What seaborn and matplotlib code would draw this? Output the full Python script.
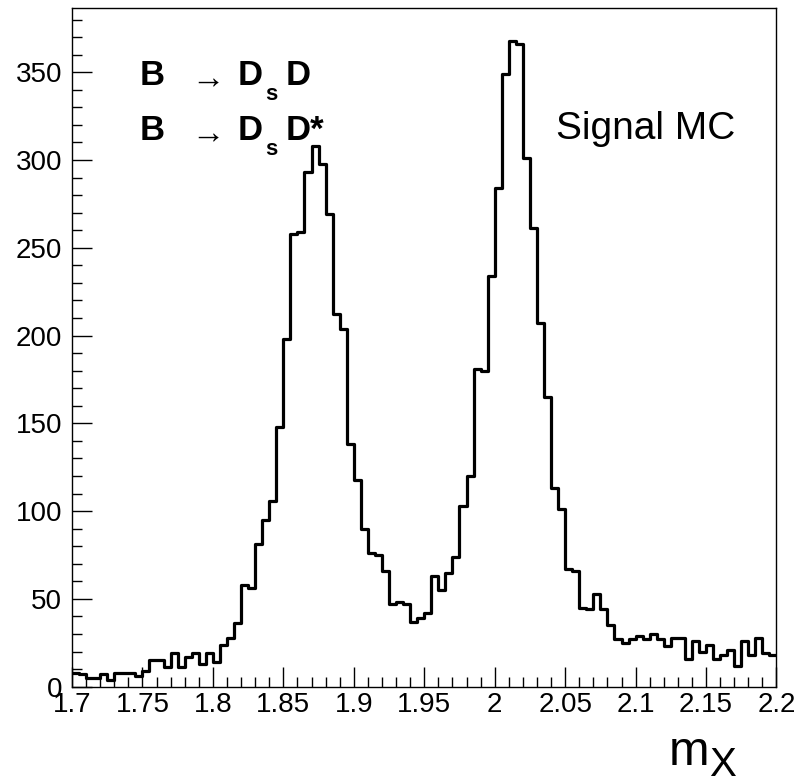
import numpy as np
import pandas as pd
import matplotlib
matplotlib.use("Agg")
import matplotlib.pyplot as plt
from matplotlib.ticker import MultipleLocator, FixedLocator, FixedFormatter
import seaborn as sns

# ---------------- data ----------------
x_min = 1.7
x_max = 2.2
n_bins = 100
counts = [8, 7, 5, 5, 7, 4, 8, 8, 8, 6,
          9, 15, 15, 11, 19, 11, 17, 19, 13, 19,
          14, 24, 28, 36, 58, 56, 81, 95, 106, 148,
          198, 258, 259, 293, 308, 298, 269, 212, 204, 138,
          118, 90, 76, 75, 66, 47, 48, 47, 37, 39,
          42, 63, 55, 65, 74, 103, 120, 181, 180, 234,
          284, 349, 368, 366, 301, 261, 207, 165, 113, 101,
          67, 66, 45, 44, 53, 44, 35, 27, 25, 27,
          29, 27, 30, 27, 23, 28, 28, 16, 26, 20,
          24, 16, 18, 21, 12, 26, 18, 28, 19, 18]
x_ticks = [1.7, 1.75, 1.8, 1.85, 1.9, 1.95, 2.0, 2.05, 2.1, 2.15, 2.2]
x_tick_labels = ["1.7", "1.75", "1.8", "1.85", "1.9", "1.95", "2", "2.05", "2.1", "2.15", "2.2"]
y_ticks = [0, 50, 100, 150, 200, 250, 300, 350]
y_tick_labels = ["0", "50", "100", "150", "200", "250", "300", "350"]
x_label_main = "m"
x_label_sub = "X"
decay_arrow = "\u2192"
decay_lines = [("B", "D", "s", "D"), ("B", "D", "s", "D*")]
sample_label = "Signal MC"

# ---------------- style ----------------
sns.set_style("white")
plt.rcParams['font.family'] = ['Liberation Sans', 'DejaVu Sans']
plt.rcParams['text.color'] = 'black'

W, H = 812, 784
fig = plt.figure(figsize=(W / 100, H / 100), dpi=100)
ax_l, ax_r, ax_t, ax_b = 72, 776.5, 8.3, 686.7
ax = fig.add_axes([ax_l / W, 1 - ax_b / H, (ax_r - ax_l) / W, (ax_b - ax_t) / H])

edges = np.linspace(x_min, x_max, n_bins + 1)
centers = 0.5 * (edges[:-1] + edges[1:])
df = pd.DataFrame({"mx": centers, "n": np.asarray(counts, dtype=float)})
sns.histplot(data=df, x="mx", weights="n", bins=n_bins, binrange=(x_min, x_max),
             element="step", fill=False, color="black", linewidth=2.3, ax=ax)

ax.set_xlim(x_min, x_max)
ax.set_ylim(0, 1.05 * max(counts))
ax.set_xlabel("")
ax.set_ylabel("")

ax.xaxis.set_major_locator(FixedLocator(x_ticks))
ax.xaxis.set_major_formatter(FixedFormatter(x_tick_labels))
ax.xaxis.set_minor_locator(MultipleLocator(0.01))
ax.yaxis.set_major_locator(FixedLocator(y_ticks))
ax.yaxis.set_major_formatter(FixedFormatter(y_tick_labels))
ax.yaxis.set_minor_locator(MultipleLocator(10))

ax.tick_params(which="both", bottom=True, left=True, top=False, right=False)
ax.tick_params(which="major", direction="in", length=14.4, width=1.0,
               labelsize=20, color="black", labelcolor="black")
ax.tick_params(axis="x", which="major", pad=3.5)
ax.tick_params(axis="y", which="major", pad=7)
ax.tick_params(which="minor", direction="in", length=7.2, width=1.0, color="black")
for sp in ax.spines.values():
    sp.set_visible(True)
    sp.set_color("black")
    sp.set_linewidth(1.0)


def ftext(px, py, s, **kw):
    kw.setdefault("color", "black")
    return fig.text(px / W, 1 - py / H, s, **kw)


# decay labels
for (b, d1, sub, d2), base in zip(decay_lines, [85, 140]):
    ftext(140, base, b, fontsize=25, fontweight="bold", ha="left", va="baseline")
    ftext(208, base - 6, decay_arrow, fontsize=24, ha="center", va="center")
    ftext(237.5, base, d1, fontsize=25, fontweight="bold", ha="left", va="baseline")
    ftext(265, base + 15, sub, fontsize=16, fontweight="bold", ha="left", va="baseline")
    ftext(286, base, d2, fontsize=25, fontweight="bold", ha="left", va="baseline")

ftext(556, 139, sample_label, fontsize=28, ha="left", va="baseline")

# axis title m_X
ftext(669, 765, x_label_main, fontsize=35, ha="left", va="baseline")
ftext(709, 776, x_label_sub, fontsize=29, ha="left", va="baseline")

fig.savefig("out.png", dpi=100)
